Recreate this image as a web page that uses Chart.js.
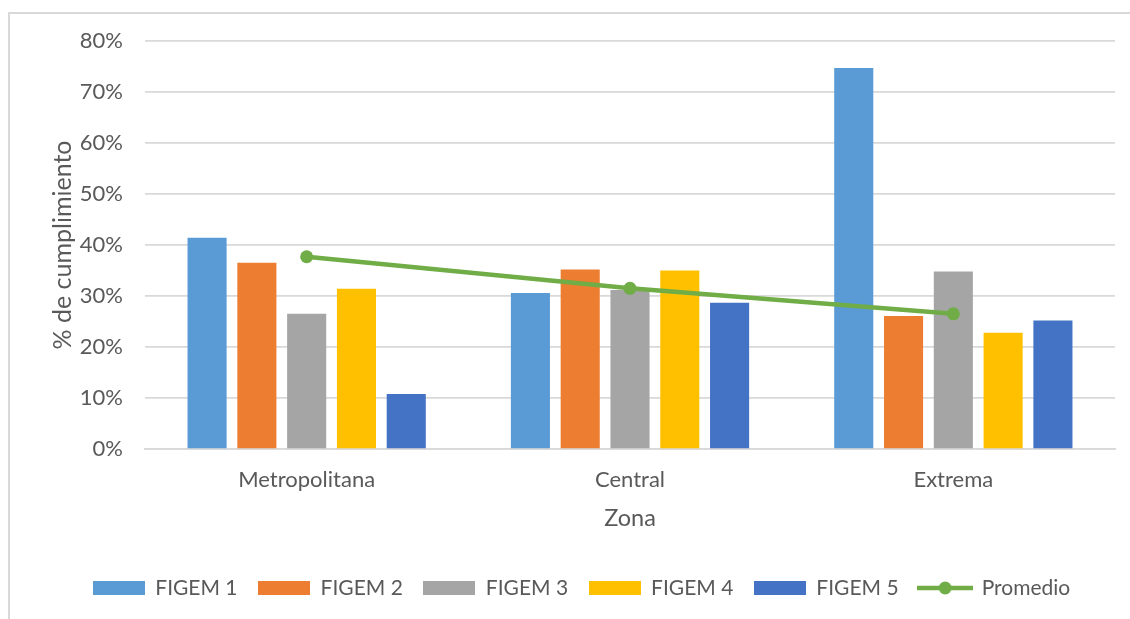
<!DOCTYPE html>
<html>
<head>
<meta charset="utf-8">
<script src="https://cdn.jsdelivr.net/npm/chart.js@4.4.1/dist/chart.umd.min.js"></script>
<style>
  html, body { margin: 0; padding: 0; background: #fff; overflow: hidden; }
  #frame {
    position: absolute; left: 8px; top: 12px; width: 1130px; height: 620px;
    border-left: 2px solid #d9d9d9; border-top: 2px solid #d9d9d9;
  }
  #wrap { position: absolute; left: 0; top: 0; width: 1120px; height: 605px; }
</style>
</head>
<body>
<div id="frame"><div id="wrap"><canvas id="myChart"></canvas></div></div>
<script>
// zonas y valores (fracción de cumplimiento)
const zonas = ['Metropolitana', 'Central', 'Extrema'];
const figem1 = [0.414, 0.306, 0.747];
const figem2 = [0.365, 0.352, 0.261];
const figem3 = [0.265, 0.312, 0.348];
const figem4 = [0.314, 0.350, 0.228];
const figem5 = [0.108, 0.287, 0.252];
const promedio = [0.377, 0.315, 0.265];
const yTicks = [0, 0.1, 0.2, 0.3, 0.4, 0.5, 0.6, 0.7, 0.8];

const colores = ['#5B9BD5', '#ED7D31', '#A5A5A5', '#FFC000', '#4472C4'];
const verde = '#70AD47';
const gris = '#595959';

// iconos de la leyenda
function cajaLeyenda(color) {
    const c = document.createElement('canvas');
    c.width = 52; c.height = 14;
    const g = c.getContext('2d');
    g.fillStyle = color;
    g.fillRect(0, 0, 52, 14);
    return c;
}
function lineaLeyenda(color) {
    const c = document.createElement('canvas');
    c.width = 56; c.height = 14;
    const g = c.getContext('2d');
    g.strokeStyle = color; g.lineWidth = 4.5;
    g.beginPath(); g.moveTo(0, 7); g.lineTo(56, 7); g.stroke();
    g.fillStyle = color;
    g.beginPath(); g.arc(28, 7, 6.5, 0, Math.PI * 2); g.fill();
    return c;
}

document.addEventListener('DOMContentLoaded', (event) => {
    var ctx = document.getElementById('myChart').getContext('2d');

    const series = [figem1, figem2, figem3, figem4, figem5];
    const barras = series.map((d, i) => ({
        type: 'bar',
        label: 'FIGEM ' + (i + 1),
        data: d,
        backgroundColor: colores[i],
        borderWidth: 0,
        categoryPercentage: 0.77,
        barPercentage: 0.785,
        order: 1
    }));

    var myChart = new Chart(ctx, {
        data: {
            labels: zonas,
            datasets: [...barras, {
                type: 'line',
                label: 'Promedio',
                data: promedio,
                borderColor: verde,
                backgroundColor: verde,
                borderWidth: 4.5,
                pointRadius: 6.5,
                pointBorderWidth: 0,
                pointHoverRadius: 6.5,
                tension: 0,
                order: 0
            }]
        },
        options: {
            responsive: true,
            maintainAspectRatio: false,
            animation: false,
            layout: { padding: { left: 38, right: 15, top: 27, bottom: 10.5 } },
            plugins: {
                tooltip: { enabled: false },
                legend: {
                    position: 'bottom',
                    labels: {
                        usePointStyle: true,
                        pointStyleWidth: 52,
                        boxHeight: 14,
                        padding: 20.5,
                        color: gris,
                        font: { family: 'Lato', size: 21 },
                        generateLabels: (chart) => chart.data.datasets.map((ds, i) => ({
                            text: ds.label,
                            datasetIndex: i,
                            fillStyle: ds.backgroundColor,
                            strokeStyle: ds.backgroundColor,
                            lineWidth: 0,
                            fontColor: gris,
                            hidden: false,
                            pointStyle: ds.type === 'line' ? lineaLeyenda(verde) : cajaLeyenda(colores[i])
                        }))
                    }
                }
            },
            scales: {
                x: {
                    grid: { display: false },
                    border: { color: '#d9d9d9', width: 1.75 },
                    ticks: { color: gris, padding: 10, font: { family: 'Lato', size: 22 } },
                    title: {
                        display: true,
                        text: 'Zona',
                        color: gris,
                        font: { family: 'Lato', size: 23.5 },
                        padding: { top: 0, bottom: 24 }
                    },
                    afterFit: (scale) => { scale.height = 108; }
                },
                y: {
                    min: 0,
                    max: 0.8,
                    afterBuildTicks: (scale) => { scale.ticks = yTicks.map(v => ({ value: v })); },
                    grid: { color: '#d9d9d9', lineWidth: 1.75, drawTicks: false },
                    border: { display: false },
                    ticks: {
                        color: gris,
                        padding: 22,
                        font: { family: 'Lato', size: 22 },
                        callback: (v) => Math.round(v * 100) + '%'
                    },
                    title: {
                        display: true,
                        text: '% de cumplimiento',
                        color: gris,
                        font: { family: 'Lato', size: 25 },
                        padding: { top: 0, bottom: 0 }
                    },
                    afterFit: (scale) => {
                        scale.width = 97;
                        scale.paddingTop = 0;
                        scale.paddingBottom = 0;
                    }
                }
            }
        }
    });
});
</script>
</body>
</html>
